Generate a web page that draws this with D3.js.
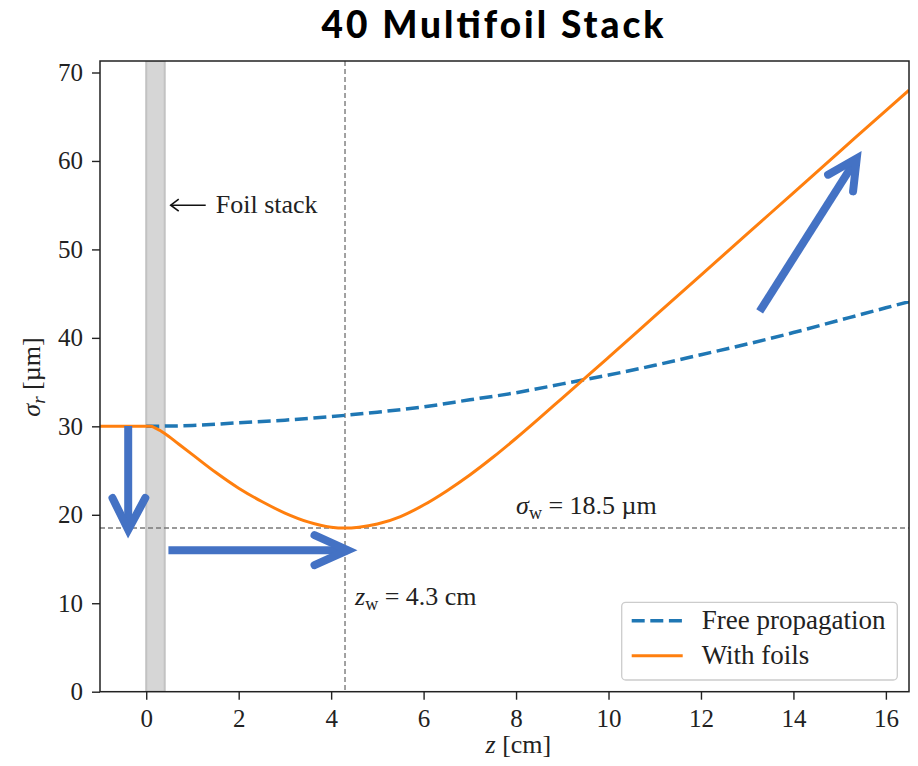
<!DOCTYPE html>
<html>
<head>
<meta charset="utf-8">
<script src="https://cdn.jsdelivr.net/npm/d3@7"></script>
<style>
  body { margin: 0; background: #fff; }
  text { font-family: "Liberation Serif", "DejaVu Serif", serif; fill: #222; }
</style>
</head>
<body>
<div id="chart"></div>
<script>
// free propagation (dashed blue)
var freeZ = [0, 1, 2, 3, 4, 5, 6, 7, 8, 9, 10, 11, 12, 13, 14, 15, 16, 16.5];
var freeSigma = [30.0, 30.1, 30.4, 30.7, 31.1, 31.6, 32.2, 33.0, 33.8, 34.8, 35.8, 36.9, 38.1, 39.3, 40.6, 42.0, 43.4, 44.1];

// with foils (solid orange)
var foilZ = [-1, 0, 0.1, 0.2, 0.4, 0.7, 1.0, 1.5, 2.0, 2.5, 3.0, 3.5, 4.0, 4.3, 4.6, 5.0, 5.5, 6.0, 6.5, 7.0, 7.5, 8.0, 8.5, 9.0, 9.6, 10, 11, 12, 13, 14, 15, 16, 16.5];
var foilSigma = [30.0, 30.0, 30.0, 29.8, 29.2, 28.0, 26.8, 24.8, 23.0, 21.5, 20.2, 19.2, 18.6, 18.5, 18.6, 18.95, 19.8, 21.1, 22.7, 24.5, 26.5, 28.65, 30.9, 33.2, 35.95, 37.8, 42.45, 47.1, 51.75, 56.4, 61.05, 65.7, 68.0];

var xTicks = [0, 2, 4, 6, 8, 10, 12, 14, 16];
var yTicks = [0, 10, 20, 30, 40, 50, 60, 70];

var foilStack = [0, 0.4];   // grey band, z range
var waistZ = 4.3;
var waistSigma = 18.5;

// blue overlay arrows: [z, sigma] for shaft start, tip, and the two wing ends
var arrowDown  = [[-0.39, 30.05], [-0.39, 18.3], [-0.73, 21.9], [-0.02, 21.9]];
var arrowRight = [[0.48, 16.0], [4.36, 16.0], [3.64, 17.7], [3.64, 14.3]];
var arrowUp    = [[13.27, 43.0], [15.37, 60.3], [14.75, 58.45], [15.29, 56.56]];

var W = 918, H = 766;
var margin = {top: 61, right: 9, bottom: 74.3, left: 100};
var width = W - margin.left - margin.right;
var height = H - margin.top - margin.bottom;

var x = d3.scaleLinear().domain([-1, 16.5]).range([0, width]);
var y = d3.scaleLinear().domain([0, 71.3]).range([height, 0]);

var svg = d3.select("#chart").append("svg")
    .attr("width", W)
    .attr("height", H);

// title
svg.append("text")
    .attr("x", 492.5)
    .attr("y", 37.5)
    .attr("text-anchor", "middle")
    .attr("textLength", 342)
    .attr("lengthAdjust", "spacing")
    .style("font-family", "Lato, 'Open Sans', sans-serif")
    .style("font-weight", "900")
    .style("font-size", "37px")
    .style("fill", "#000")
    .text("40 Multifoil Stack");

var g = svg.append("g")
    .attr("transform", "translate(" + margin.left + "," + margin.top + ")");

g.append("clipPath").attr("id", "clip")
  .append("rect").attr("width", width).attr("height", height);

var plot = g.append("g").attr("clip-path", "url(#clip)");

// foil stack band
plot.append("rect")
    .attr("x", x(foilStack[0]))
    .attr("y", 0)
    .attr("width", x(foilStack[1]) - x(foilStack[0]))
    .attr("height", height)
    .style("fill", "#d6d6d6")
    .style("stroke", "#c2c2c2")
    .style("stroke-width", 2);

// waist guides
plot.append("line")
    .attr("x1", x(waistZ)).attr("x2", x(waistZ))
    .attr("y1", 0).attr("y2", height)
    .style("stroke", "#7a7a7a").style("stroke-width", 1.4).style("stroke-dasharray", "5,3");
plot.append("line")
    .attr("x1", 0).attr("x2", width)
    .attr("y1", y(waistSigma)).attr("y2", y(waistSigma))
    .style("stroke", "#7a7a7a").style("stroke-width", 1.4).style("stroke-dasharray", "5,3");

var line = d3.line()
    .x(function(d) { return x(d[0]); })
    .y(function(d) { return y(d[1]); })
    .curve(d3.curveMonotoneX);

plot.append("path")
    .datum(d3.zip(freeZ, freeSigma))
    .attr("d", line)
    .style("fill", "none")
    .style("stroke", "#1f77b4")
    .style("stroke-width", 3.5)
    .style("stroke-dasharray", "13,5.6");

plot.append("path")
    .datum(d3.zip(foilZ, foilSigma))
    .attr("d", line)
    .style("fill", "none")
    .style("stroke", "#ff7f0e")
    .style("stroke-width", 3);

// axes
var xAxis = d3.axisBottom(x).tickValues(xTicks).tickSize(8).tickPadding(10).tickFormat(d3.format("d"));
var yAxis = d3.axisLeft(y).tickValues(yTicks).tickSize(8).tickPadding(9).tickFormat(d3.format("d"));

var gx = g.append("g").attr("transform", "translate(0," + height + ")").call(xAxis);
var gy = g.append("g").call(yAxis);
[gx, gy].forEach(function(a) {
  a.select(".domain").remove();
  a.selectAll(".tick line").style("stroke", "#222").style("stroke-width", 1.4);
  a.selectAll(".tick text")
    .style("font-family", "'Liberation Serif', serif")
    .style("font-size", "25px")
    .style("fill", "#222");
});
gx.selectAll(".tick text").attr("dy", "0.68em");

// frame
g.append("rect")
    .attr("width", width).attr("height", height)
    .style("fill", "none").style("stroke", "#222").style("stroke-width", 1.5);

// axis labels
var xl = svg.append("text")
    .attr("x", margin.left + x(8.05))
    .attr("y", 753)
    .attr("text-anchor", "middle")
    .style("font-size", "26px");
xl.append("tspan").style("font-style", "italic").text("z");
xl.append("tspan").text(" [cm]");

var yl = svg.append("text")
    .attr("transform", "translate(40," + 377 + ") rotate(-90)")
    .attr("text-anchor", "middle")
    .style("font-size", "26px");
yl.append("tspan").style("font-style", "italic").text("σ");
yl.append("tspan").style("font-style", "italic").style("font-size", "19px").attr("dy", 5).text("r");
yl.append("tspan").attr("dy", -5).text(" [µm]");

// annotations
var sw = g.append("text")
    .attr("x", x(8.0))
    .attr("y", y(waistSigma) - 14)
    .style("font-size", "26px");
sw.append("tspan").style("font-style", "italic").text("σ");
sw.append("tspan").style("font-size", "18px").attr("dy", 5).text("w");
sw.append("tspan").attr("dy", -5).text(" = 18.5 µm");

var zw = g.append("text")
    .attr("x", x(waistZ) + 10)
    .attr("y", y(9.8))
    .style("font-size", "26px");
zw.append("tspan").style("font-style", "italic").text("z");
zw.append("tspan").style("font-size", "18px").attr("dy", 5).text("w");
zw.append("tspan").attr("dy", -5).text(" = 4.3 cm");

// foil stack label with arrow
var fsY = y(55.0);
g.append("line")
    .attr("x1", x(foilStack[1]) + 6).attr("x2", x(foilStack[1]) + 41)
    .attr("y1", fsY).attr("y2", fsY)
    .style("stroke", "#111").style("stroke-width", 1.6);
g.append("path")
    .attr("d", "M" + (x(foilStack[1]) + 14) + "," + (fsY - 6) + " L" + (x(foilStack[1]) + 6) + "," + fsY + " L" + (x(foilStack[1]) + 14) + "," + (fsY + 6))
    .style("fill", "none").style("stroke", "#111").style("stroke-width", 1.6);
g.append("text")
    .attr("x", x(foilStack[1]) + 51)
    .attr("y", fsY + 8)
    .style("font-size", "26px")
    .text("Foil stack");

// legend
var leg = g.append("g").attr("transform", "translate(" + (621.7 - margin.left) + "," + (602.3 - margin.top) + ")");
leg.append("rect")
    .attr("width", 275.6).attr("height", 77.7).attr("rx", 4)
    .style("fill", "#fff").style("fill-opacity", 0.8)
    .style("stroke", "#ccc").style("stroke-width", 1.3);
var legItems = [
  {label: "Free propagation", color: "#1f77b4", dash: "13,5.6", w: 3.5},
  {label: "With foils", color: "#ff7f0e", dash: null, w: 3}
];
legItems.forEach(function(d, i) {
  var yy = 18.5 + i * 35;
  leg.append("line")
    .attr("x1", 10).attr("x2", 61).attr("y1", yy).attr("y2", yy)
    .style("stroke", d.color).style("stroke-width", d.w)
    .style("stroke-dasharray", d.dash);
  leg.append("text")
    .attr("x", 80).attr("y", yy + 8)
    .style("font-size", "27px")
    .text(d.label);
});

// blue overlay arrows
[arrowDown, arrowRight, arrowUp].forEach(function(a) {
  var ag = g.append("g")
      .style("fill", "none").style("stroke", "#4472c4").style("stroke-width", 8);
  ag.append("line")
    .attr("x1", x(a[0][0])).attr("y1", y(a[0][1]))
    .attr("x2", x(a[1][0])).attr("y2", y(a[1][1]));
  ag.append("path")
    .attr("d", "M" + x(a[2][0]) + "," + y(a[2][1]) + " L" + x(a[1][0]) + "," + y(a[1][1]) + " L" + x(a[3][0]) + "," + y(a[3][1]))
    .style("stroke-linecap", "round")
    .style("stroke-linejoin", "miter");
});
</script>
</body>
</html>
